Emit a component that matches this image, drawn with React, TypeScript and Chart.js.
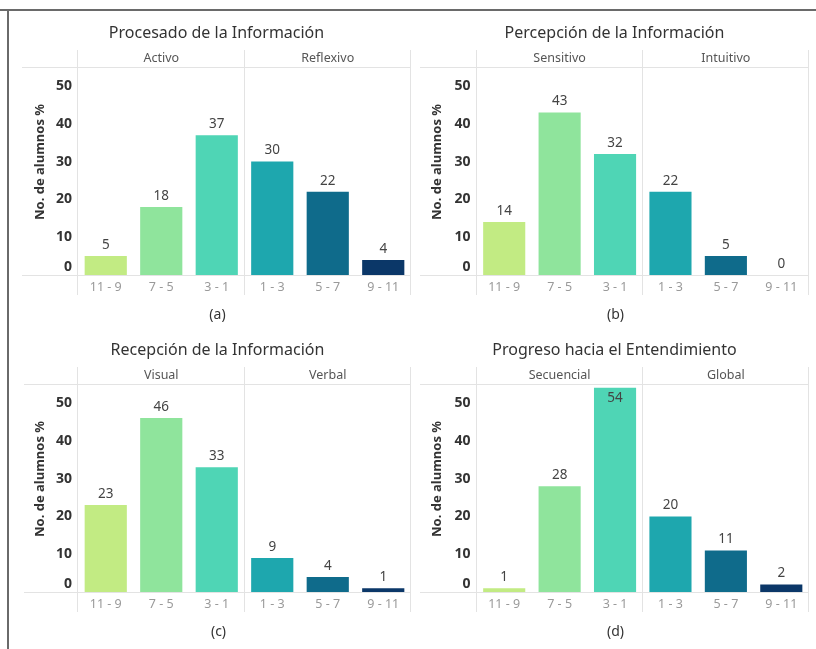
import React, { useEffect, useRef } from 'react';
import { Chart, registerables } from 'chart.js';

Chart.register(...registerables);

const categories = ['11 - 9', '7 - 5', '3 - 1', '1 - 3', '5 - 7', '9 - 11'];
const barColors = ['#c2eb83', '#8fe49c', '#4fd5b5', '#1ea7ae', '#0f6b8b', '#0b3768'];

const procesadoValues = [5, 18, 37, 30, 22, 4];
const percepcionValues = [14, 43, 32, 22, 5, 0];
const recepcionValues = [23, 46, 33, 9, 4, 1];
const progresoValues = [1, 28, 54, 20, 11, 2];

const panelTitles = [
  'Procesado de la Información',
  'Percepción de la Información',
  'Recepción de la Información',
  'Progreso hacia el Entendimiento',
];
const facetA = ['Activo', 'Reflexivo'];
const facetB = ['Sensitivo', 'Intuitivo'];
const facetC = ['Visual', 'Verbal'];
const facetD = ['Secuencial', 'Global'];
const captions = ['(a)', '(b)', '(c)', '(d)'];
const yAxisTitle = 'No. de alumnos %';
const yMin = 0;
const yMax = 55.1;
const yStep = 10;

const FONT = '"Noto Sans", "Open Sans", sans-serif';
const CW = 403;
const CH = 318;

type Panel = {
  values: number[];
  title: string;
  facets: string[];
  caption: string;
  left: number;
  top: number;
  plotLeft: number;
  plotRight: number;
  lineLeft: number;
  yTitleX: number;
};

const PLOT_TOP = 54.7;
const PLOT_BOTTOM = 263;
const XAXIS_H = 30;

const panels: Panel[] = [
  { values: procesadoValues, title: panelTitles[0], facets: facetA, caption: captions[0], left: 10, top: 12, plotLeft: 68, plotRight: 401, lineLeft: 12, yTitleX: 30 },
  { values: percepcionValues, title: panelTitles[1], facets: facetB, caption: captions[1], left: 413, top: 12, plotLeft: 63.5, plotRight: 396, lineLeft: 7, yTitleX: 24 },
  { values: recepcionValues, title: panelTitles[2], facets: facetC, caption: captions[2], left: 10, top: 329, plotLeft: 68, plotRight: 401, lineLeft: 14, yTitleX: 30 },
  { values: progresoValues, title: panelTitles[3], facets: facetD, caption: captions[3], left: 413, top: 329, plotLeft: 63.5, plotRight: 396, lineLeft: 7, yTitleX: 24 },
];

function makeDecor(p: Panel) {
  return {
    id: 'decor',
    beforeDatasetsDraw(chart: any) {
      const { ctx, chartArea } = chart;
      const x = chart.scales.x;
      const y = chart.scales.y;
      ctx.save();
      ctx.strokeStyle = '#e3e3e3';
      ctx.lineWidth = 1;
      const hl = (yy: number) => {
        const yr = Math.round(yy) + 0.5;
        ctx.beginPath();
        ctx.moveTo(p.lineLeft, yr);
        ctx.lineTo(chartArea.right, yr);
        ctx.stroke();
      };
      hl(chartArea.top);
      hl(y.getPixelForValue(0));
      const mid = (x.getPixelForValue(2) + x.getPixelForValue(3)) / 2;
      [chartArea.left, mid, chartArea.right].forEach((vx: number) => {
        const xr = Math.round(vx) - 0.5;
        ctx.beginPath();
        ctx.moveTo(xr, 38);
        ctx.lineTo(xr, 283);
        ctx.stroke();
      });
      ctx.restore();
    },
    afterDatasetsDraw(chart: any) {
      const { ctx, chartArea } = chart;
      const x = chart.scales.x;
      const y = chart.scales.y;
      ctx.save();
      ctx.textAlign = 'center';
      ctx.textBaseline = 'middle';
      // title
      const cx = (p.lineLeft + chartArea.right) / 2;
      ctx.fillStyle = '#333';
      ctx.font = `16px ${FONT}`;
      ctx.fillText(p.title, cx, 21);
      // caption
      ctx.font = `14px ${FONT}`;
      ctx.fillStyle = '#333';
      ctx.fillText(p.caption, cx + 1, 303);
      // facets
      ctx.font = `12.5px ${FONT}`;
      ctx.fillStyle = '#555';
      const g1 = (x.getPixelForValue(0) + x.getPixelForValue(2)) / 2;
      const g2 = (x.getPixelForValue(3) + x.getPixelForValue(5)) / 2;
      ctx.fillText(p.facets[0], g1, 46);
      ctx.fillText(p.facets[1], g2, 46);
      // value labels
      ctx.font = `13.5px ${FONT}`;
      ctx.fillStyle = '#444';
      const meta = chart.getDatasetMeta(0);
      meta.data.forEach((bar: any, i: number) => {
        const v = p.values[i];
        const top = y.getPixelForValue(v);
        let ly = top - 11;
        if (ly - 8 < chartArea.top) ly = top + 10;
        ctx.fillText(String(v), bar.x, ly);
      });
      // y title
      ctx.translate(p.yTitleX, 150);
      ctx.rotate(-Math.PI / 2);
      ctx.font = `bold 13px ${FONT}`;
      ctx.fillStyle = '#333';
      ctx.fillText(yAxisTitle, 0, 0);
      ctx.restore();
    },
  };
}

function PanelChart({ p }: { p: Panel }) {
  const ref = useRef<HTMLCanvasElement | null>(null);
  useEffect(() => {
    if (!ref.current) return;
    const chart = new Chart(ref.current, {
      type: 'bar',
      data: {
        labels: categories,
        datasets: [
          {
            data: p.values,
            backgroundColor: barColors,
            barPercentage: 0.76,
            categoryPercentage: 1,
            borderWidth: 0,
          },
        ],
      },
      options: {
        animation: false,
        responsive: false,
        maintainAspectRatio: false,
        events: [],
        layout: {
          padding: {
            left: 0,
            top: PLOT_TOP,
            right: CW - p.plotRight,
            bottom: CH - PLOT_BOTTOM - XAXIS_H,
          },
        },
        plugins: {
          legend: { display: false },
          tooltip: { enabled: false },
          title: { display: false },
        },
        scales: {
          x: {
            type: 'category',
            offset: true,
            grid: { display: false, drawTicks: false },
            border: { display: false },
            ticks: {
              color: '#9a9a9a',
              font: { family: FONT, size: 12.5 },
              padding: 5,
              maxRotation: 0,
              autoSkip: false,
            },
            afterFit: (s: any) => {
              s.height = XAXIS_H;
            },
          },
          y: {
            type: 'linear',
            min: yMin,
            max: yMax,
            grid: { display: false, drawTicks: false },
            border: { display: false },
            ticks: {
              stepSize: yStep,
              includeBounds: false,
              color: '#333',
              font: { family: FONT, size: 14, weight: 'bold' },
              padding: 6,
              callback: (v: any) => (Number(v) % 10 === 0 ? (Number(v) === 0 ? ['0', ''] : String(v)) : ''),
            },
            afterFit: (s: any) => {
              s.width = p.plotLeft;
            },
          },
        },
      } as any,
      plugins: [makeDecor(p)],
    });
    return () => chart.destroy();
  }, [p]);
  return (
    <canvas
      ref={ref}
      width={CW}
      height={CH}
      style={{ position: 'absolute', left: p.left, top: p.top, width: CW, height: CH }}
    />
  );
}

export default function App() {
  return (
    <div style={{ position: 'fixed', left: 0, top: 0, width: 816, height: 649, background: '#fff', overflow: 'hidden' }}>
      <div style={{ position: 'absolute', left: 0, top: 9, width: 816, height: 0, borderTop: '2px solid #6a6a6a' }} />
      <div style={{ position: 'absolute', left: 7, top: 9, width: 0, height: 640, borderLeft: '2px solid #6a6a6a' }} />
      {panels.map((p, i) => (
        <PanelChart key={i} p={p} />
      ))}
    </div>
  );
}
